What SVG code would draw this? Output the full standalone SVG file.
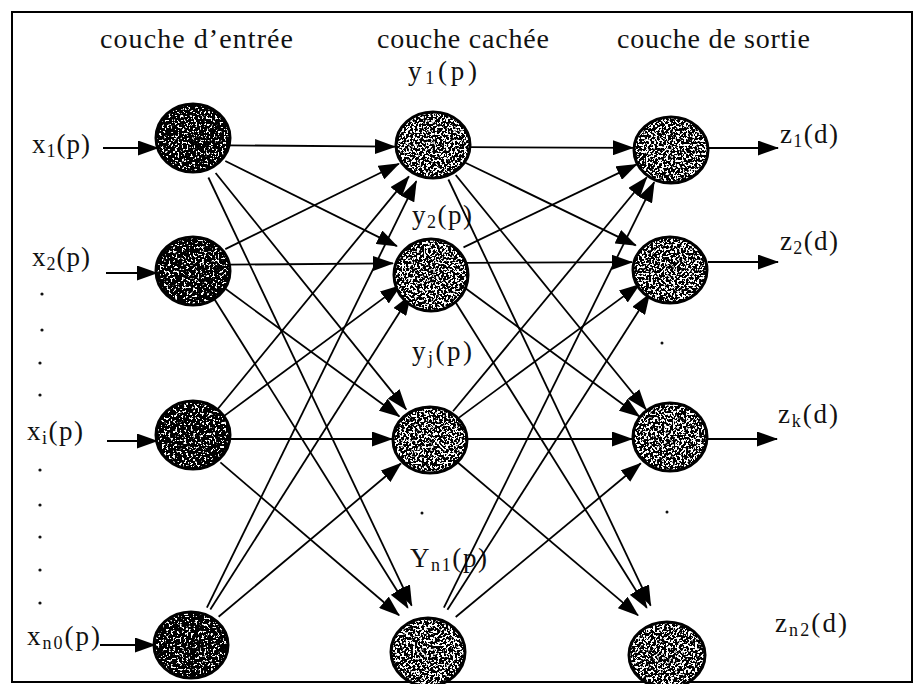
<svg xmlns="http://www.w3.org/2000/svg" width="917" height="684" viewBox="0 0 917 684">
<style>
.t{font-family:"Liberation Serif","Times New Roman",serif;fill:#111;}
.title{font-size:28px;}
.lab{font-size:27px;}
.sub{font-size:18px;}
.num{font-family:"Liberation Serif",serif;font-size:22px;fill:#000;opacity:.35;text-anchor:middle;}
.c{stroke:#000;stroke-width:1.8;fill:none;marker-end:url(#ah);}
.rim{fill:none;stroke:#000;stroke-width:3;}
.dk{fill:#fff;filter:url(#txd);}
.lt{fill:#fff;filter:url(#txl);}
.dot{fill:#111;}
</style>
<defs>
<marker id="ah" markerUnits="userSpaceOnUse" markerWidth="21" markerHeight="15" refX="20" refY="7.5" orient="auto">
<path d="M0,0 L21,7.5 L0,15 Z" fill="#000"/>
</marker>
<filter id="txd" x="-5%" y="-5%" width="110%" height="110%" color-interpolation-filters="sRGB">
<feTurbulence type="fractalNoise" baseFrequency="0.45" numOctaves="2" seed="4" result="n"/>
<feColorMatrix in="n" type="matrix" values="0 0 0 0 0  0 0 0 0 0  0 0 0 0 0  -20 0 0 0 12.6" result="a"/>
<feComposite in="a" in2="SourceGraphic" operator="in" result="s"/>
<feMerge><feMergeNode in="SourceGraphic"/><feMergeNode in="s"/></feMerge>
</filter>
<filter id="txl" x="-5%" y="-5%" width="110%" height="110%" color-interpolation-filters="sRGB">
<feTurbulence type="fractalNoise" baseFrequency="0.45" numOctaves="2" seed="9" result="n"/>
<feColorMatrix in="n" type="matrix" values="0 0 0 0 0  0 0 0 0 0  0 0 0 0 0  -20 0 0 0 11.1" result="a"/>
<feComposite in="a" in2="SourceGraphic" operator="in" result="s"/>
<feMerge><feMergeNode in="SourceGraphic"/><feMergeNode in="s"/></feMerge>
</filter>
</defs>
<rect x="0" y="0" width="917" height="684" fill="#fff"/>
<rect x="12" y="12" width="900" height="670" fill="none" stroke="#000" stroke-width="2"/>

<g id="titles">
<text class="t title" x="100" y="48" textLength="193" lengthAdjust="spacing">couche d’entrée</text>
<text class="t title" x="377" y="48" textLength="172" lengthAdjust="spacing">couche cachée</text>
<text class="t title" x="617" y="48" textLength="193" lengthAdjust="spacing">couche de sortie</text>
</g>

<g id="labels">
<text class="t lab" x="32" y="153" textLength="58" lengthAdjust="spacing">x<tspan class="sub" dy="4">1</tspan><tspan dy="-4">(p)</tspan></text>
<text class="t lab" x="32" y="266" textLength="58" lengthAdjust="spacing">x<tspan class="sub" dy="4">2</tspan><tspan dy="-4">(p)</tspan></text>
<text class="t lab" x="27" y="440" textLength="56" lengthAdjust="spacing">x<tspan class="sub" dy="4">i</tspan><tspan dy="-4">(p)</tspan></text>
<text class="t lab" x="27" y="645" textLength="73" lengthAdjust="spacing">x<tspan class="sub" dy="4">n0</tspan><tspan dy="-4">(p)</tspan></text>
<text class="t lab" x="408" y="80" textLength="69" lengthAdjust="spacing">y<tspan class="sub" dy="4">1</tspan><tspan dy="-4">(p)</tspan></text>
<text class="t lab" x="412" y="224" textLength="60" lengthAdjust="spacing">y<tspan class="sub" dy="4">2</tspan><tspan dy="-4">(p)</tspan></text>
<text class="t lab" x="412" y="360" textLength="60" lengthAdjust="spacing">y<tspan class="sub" dy="4">j</tspan><tspan dy="-4">(p)</tspan></text>
<text class="t lab" x="410" y="567" textLength="77" lengthAdjust="spacing">Y<tspan class="sub" dy="4">n1</tspan><tspan dy="-4">(p)</tspan></text>
<text class="t lab" x="780" y="143" textLength="58" lengthAdjust="spacing">z<tspan class="sub" dy="4">1</tspan><tspan dy="-4">(d)</tspan></text>
<text class="t lab" x="780" y="250" textLength="58" lengthAdjust="spacing">z<tspan class="sub" dy="4">2</tspan><tspan dy="-4">(d)</tspan></text>
<text class="t lab" x="778" y="423" textLength="60" lengthAdjust="spacing">z<tspan class="sub" dy="4">k</tspan><tspan dy="-4">(d)</tspan></text>
<text class="t lab" x="775" y="632" textLength="72" lengthAdjust="spacing">z<tspan class="sub" dy="4">n2</tspan><tspan dy="-4">(d)</tspan></text>
</g>

<g id="dots">
<circle class="dot" cx="42" cy="294" r="1.6"/>
<circle class="dot" cx="42" cy="330" r="1.6"/>
<circle class="dot" cx="40" cy="363" r="1.6"/>
<circle class="dot" cx="40" cy="395" r="1.6"/>
<circle class="dot" cx="40" cy="470" r="1.6"/>
<circle class="dot" cx="40" cy="505" r="1.6"/>
<circle class="dot" cx="40" cy="537" r="1.6"/>
<circle class="dot" cx="40" cy="570" r="1.6"/>
<circle class="dot" cx="40" cy="603" r="1.6"/>
<circle class="dot" cx="422" cy="513" r="1.5"/>
<circle class="dot" cx="662" cy="343" r="1.5"/>
<circle class="dot" cx="667" cy="512" r="1.5"/>
</g>

<g id="connectors">
<line class="c" x1="103" y1="148" x2="158" y2="148"/>
<line class="c" x1="106" y1="273" x2="157" y2="273"/>
<line class="c" x1="107" y1="441" x2="157" y2="441"/>
<line class="c" x1="100" y1="645" x2="155" y2="645"/>

<line class="c" x1="229" y1="145.3" x2="395" y2="146.7"/>
<line class="c" x1="225.3" y1="161" x2="396.9" y2="246.1"/>
<line class="c" x1="215.6" y1="173" x2="406.2" y2="409.4"/>
<line class="c" x1="208.4" y1="177.5" x2="411.7" y2="605.7"/>

<line class="c" x1="225.3" y1="249.1" x2="398.9" y2="163.8"/>
<line class="c" x1="229" y1="264.7" x2="393" y2="263.3"/>
<line class="c" x1="222" y1="286.3" x2="399.4" y2="416.5"/>
<line class="c" x1="212.1" y1="295.5" x2="407.8" y2="607.8"/>

<line class="c" x1="215.9" y1="411.2" x2="408.9" y2="176.4"/>
<line class="c" x1="221.9" y1="417.6" x2="400.4" y2="285.6"/>
<line class="c" x1="229" y1="439" x2="392" y2="439"/>
<line class="c" x1="220.4" y1="462.4" x2="399.1" y2="615.3"/>

<line class="c" x1="206.9" y1="607.7" x2="416.3" y2="181.1"/>
<line class="c" x1="210.3" y1="609.6" x2="410.6" y2="295.1"/>
<line class="c" x1="218.6" y1="616.8" x2="400.9" y2="463.5"/>

<line class="c" x1="469" y1="147.2" x2="633" y2="147.8"/>
<line class="c" x1="465.4" y1="162.7" x2="635.8" y2="245.4"/>
<line class="c" x1="455.7" y1="175" x2="646.1" y2="409.5"/>
<line class="c" x1="448.4" y1="179.5" x2="650.7" y2="605.7"/>

<line class="c" x1="463.5" y1="247.4" x2="636.7" y2="164.4"/>
<line class="c" x1="467" y1="262.8" x2="632" y2="262.2"/>
<line class="c" x1="460" y1="284.3" x2="639.4" y2="416.5"/>
<line class="c" x1="450.1" y1="293.5" x2="646.8" y2="607.8"/>

<line class="c" x1="453" y1="411.3" x2="646.8" y2="177.3"/>
<line class="c" x1="459" y1="417.6" x2="639.4" y2="284.6"/>
<line class="c" x1="466" y1="439" x2="632" y2="439"/>
<line class="c" x1="457.5" y1="462.3" x2="638" y2="615.4"/>

<line class="c" x1="443.9" y1="607.7" x2="654.2" y2="182.1"/>
<line class="c" x1="447.4" y1="609.7" x2="649.5" y2="294"/>
<line class="c" x1="455.7" y1="617" x2="640.8" y2="463.3"/>

<line class="c" x1="708" y1="148" x2="778" y2="148"/>
<line class="c" x1="708" y1="262" x2="778" y2="262"/>
<line class="c" x1="707" y1="439" x2="777" y2="439"/>
</g>

<g id="in1"><ellipse class="dk" cx="193" cy="138" rx="37" ry="34"/><ellipse class="rim" cx="193" cy="138" rx="37" ry="34"/><text class="num" x="193" y="146">1</text></g>
<g id="in2"><ellipse class="dk" cx="193" cy="271" rx="37" ry="34"/><ellipse class="rim" cx="193" cy="271" rx="37" ry="34"/><text class="num" x="193" y="279">2</text></g>
<g id="ini"><ellipse class="dk" cx="193" cy="435" rx="37" ry="34"/><ellipse class="rim" cx="193" cy="435" rx="37" ry="34"/><text class="num" x="193" y="443">i</text></g>
<g id="inn0"><ellipse class="dk" cx="191" cy="645" rx="37" ry="33"/><ellipse class="rim" cx="191" cy="645" rx="37" ry="33"/><text class="num" x="191" y="653">n0</text></g>

<g id="hid1"><ellipse class="lt" cx="433" cy="145" rx="37" ry="33"/><ellipse class="rim" cx="433" cy="145" rx="37" ry="33"/><text class="num" x="433" y="153">1</text></g>
<g id="hid2"><ellipse class="lt" cx="431" cy="275" rx="37" ry="36"/><ellipse class="rim" cx="431" cy="275" rx="37" ry="36"/><text class="num" x="431" y="283">2</text></g>
<g id="hidj"><ellipse class="lt" cx="430" cy="440" rx="37" ry="33"/><ellipse class="rim" cx="430" cy="440" rx="37" ry="33"/><text class="num" x="430" y="448">j</text></g>
<g id="hidn1"><ellipse class="lt" cx="428" cy="652" rx="37" ry="34"/><ellipse class="rim" cx="428" cy="652" rx="37" ry="34"/><text class="num" x="428" y="660">n1</text></g>

<g id="out1"><ellipse class="lt" cx="671" cy="150" rx="37" ry="33"/><ellipse class="rim" cx="671" cy="150" rx="37" ry="33"/><text class="num" x="671" y="158">1</text></g>
<g id="out2"><ellipse class="lt" cx="670" cy="270" rx="37" ry="33"/><ellipse class="rim" cx="670" cy="270" rx="37" ry="33"/><text class="num" x="670" y="278">2</text></g>
<g id="outk"><ellipse class="lt" cx="670" cy="437" rx="37" ry="34"/><ellipse class="rim" cx="670" cy="437" rx="37" ry="34"/><text class="num" x="670" y="445">k</text></g>
<g id="outn2"><ellipse class="lt" cx="667" cy="655" rx="38" ry="33"/><ellipse class="rim" cx="667" cy="655" rx="38" ry="33"/><text class="num" x="667" y="663">n2</text></g>
</svg>
